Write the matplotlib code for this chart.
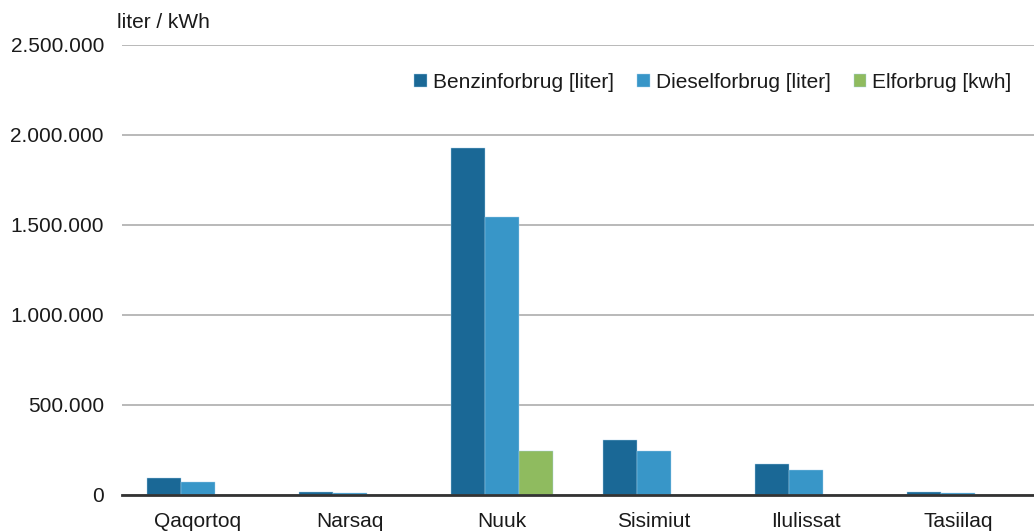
import numpy as np
import matplotlib.pyplot as plt
from matplotlib.ticker import FuncFormatter

plt.rcParams['font.family'] = ['Liberation Sans', 'DejaVu Sans']

# data
towns = ['Qaqortoq', 'Narsaq', 'Nuuk', 'Sisimiut', 'Ilulissat', 'Tasiilaq']
benzin = [94000, 14000, 1928000, 306000, 174000, 14000]
diesel = [72000, 10000, 1544000, 243000, 137000, 11000]
el = [0, 0, 244000, 0, 0, 0]
series_names = ['Benzinforbrug [liter]', 'Dieselforbrug [liter]', 'Elforbrug [kwh]']
colors = ['#1a6896', '#3896c8', '#8fbb5f']

fig = plt.figure(figsize=(10.34, 5.31), dpi=100)
ax = fig.add_axes([0.118, 0.0678, 0.882, 0.8475])

x = np.arange(len(towns))
w = 0.224
for i, (vals, name, c) in enumerate(zip([benzin, diesel, el], series_names, colors)):
    ax.bar(x + (i - 1) * w, vals, width=w, color=c, label=name, zorder=3,
           edgecolor='#a9d3ec', linewidth=0.3)

ax.set_xlim(-0.5, len(towns) - 0.5)
ax.set_ylim(0, 2500000)
ax.set_yticks(np.arange(0, 2500001, 500000))
ax.yaxis.set_major_formatter(FuncFormatter(lambda v, p: f'{int(v):,}'.replace(',', '.')))
ax.set_xticks(x)
ax.set_xticklabels(towns)

ax.grid(axis='y', color='#b3b3b3', linewidth=1.3, zorder=0)
for s in ['top', 'right', 'left']:
    ax.spines[s].set_visible(False)
ax.spines['bottom'].set_color('#333333')
ax.spines['bottom'].set_linewidth(2)
ax.spines['bottom'].set_zorder(4)
ax.tick_params(axis='both', length=0, labelsize=15, colors='#1a1a1a')
ax.tick_params(axis='y', pad=13)
ax.tick_params(axis='x', pad=12)

fig.text(0.113, 0.958, 'liter / kWh', fontsize=15, color='#1a1a1a', va='center')

ax.legend(loc='upper right', bbox_to_anchor=(0.996, 0.98), ncol=3, frameon=False,
          fontsize=15, handlelength=0.6, handleheight=0.6, handletextpad=0.3,
          columnspacing=1.1, labelcolor='#1a1a1a')

fig.savefig('out.png', dpi=100)
